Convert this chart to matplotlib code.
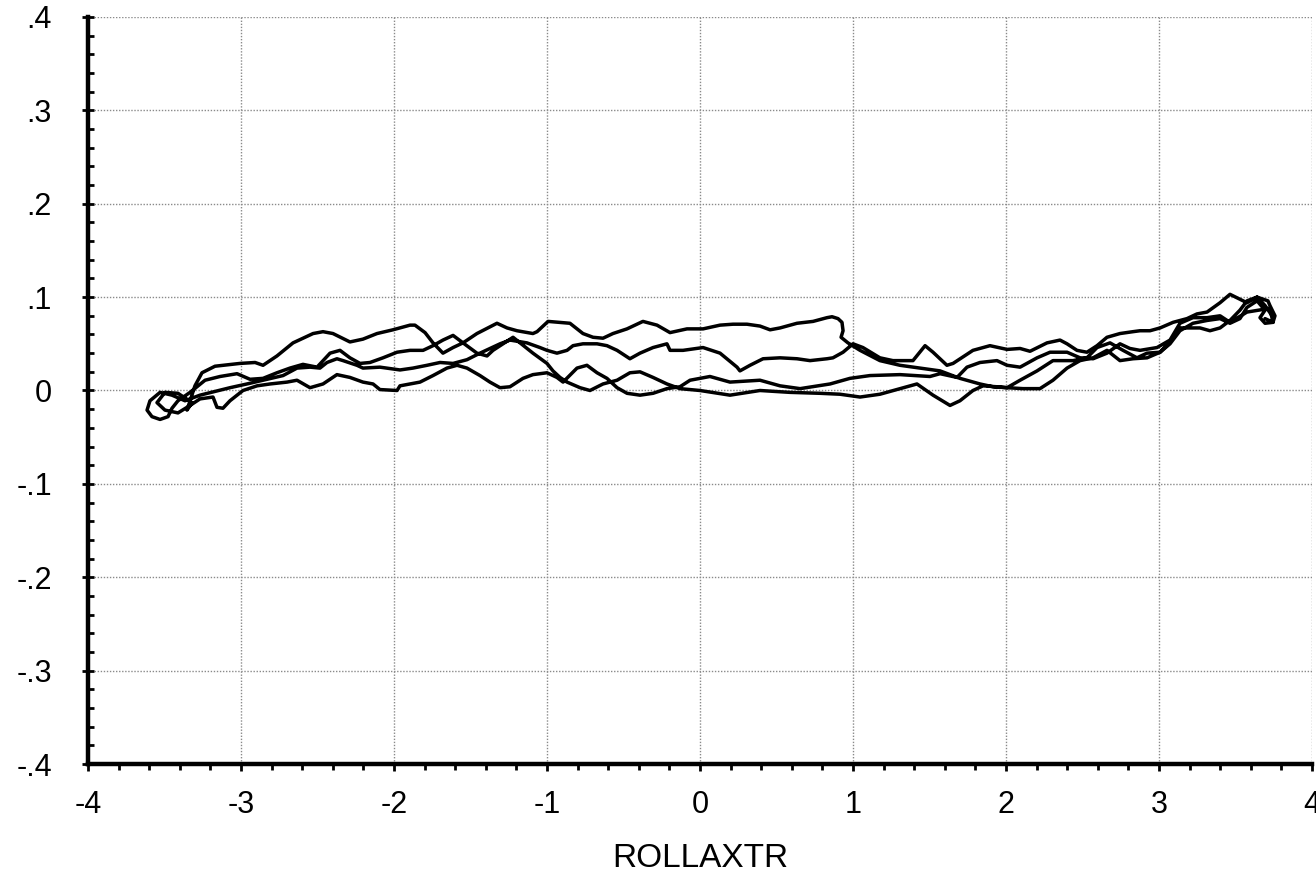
import matplotlib
matplotlib.use("Agg")
import matplotlib.pyplot as plt
import numpy as np
from matplotlib.ticker import MultipleLocator

plt.rcParams['font.family'] = ['Liberation Sans', 'DejaVu Sans']

# ---- data ----
# pass 1: right end -> left end
pass1_x = [3.693, 3.745, 3.758, 3.725, 3.712, 3.641, 3.575, 3.464, 3.399, 3.314, 3.248, 3.183,
           3.092, 3.007, 2.941, 2.876, 2.830, 2.745, 2.660, 2.595, 2.529, 2.464, 2.399, 2.353,
           2.268, 2.157, 2.092, 2.007, 1.895, 1.784, 1.654, 1.614, 1.523, 1.471, 1.392, 1.261,
           1.176, 1.065, 1.000, 0.935, 0.869, 0.830, 0.719, 0.634, 0.523, 0.412, 0.327, 0.261,
           0.242, 0.131, 0.020, -0.111, -0.196, -0.216, -0.307, -0.392, -0.458, -0.542, -0.608,
           -0.673, -0.765, -0.830, -0.869, -0.935, -1.000, -1.046, -1.131, -1.242, -1.307, -1.438,
           -1.523, -1.614, -1.699, -1.784, -1.876, -1.961, -2.092, -2.203, -2.242, -2.333, -2.373,
           -2.438, -2.484, -2.549, -2.634, -2.725, -2.856, -2.961, -3.072, -3.268, -3.366, -3.451,
           -3.529, -3.595, -3.614, -3.582, -3.529, -3.477, -3.451]
pass1_y = [0.077, 0.073, 0.080, 0.091, 0.096, 0.100, 0.094, 0.103, 0.094, 0.084, 0.082, 0.077,
           0.073, 0.067, 0.064, 0.064, 0.063, 0.061, 0.057, 0.048, 0.041, 0.043, 0.050, 0.054,
           0.051, 0.042, 0.045, 0.044, 0.048, 0.043, 0.029, 0.027, 0.041, 0.048, 0.032, 0.032,
           0.035, 0.046, 0.050, 0.041, 0.035, 0.034, 0.032, 0.034, 0.035, 0.034, 0.027, 0.021,
           0.025, 0.040, 0.046, 0.043, 0.043, 0.050, 0.046, 0.040, 0.034, 0.043, 0.048,
           0.050, 0.050, 0.048, 0.043, 0.040, 0.043, 0.046, 0.051, 0.054, 0.050, 0.040,
           0.033, 0.029, 0.030, 0.027, 0.024, 0.022, 0.025, 0.024, 0.027, 0.032, 0.034,
           0.030, 0.024, 0.025, 0.024, 0.016, 0.011, 0.007, 0.003, -0.005, -0.011, -0.005,
           -0.002, -0.011, -0.021, -0.028, -0.031, -0.028, -0.019]

# pass 2: left end -> right end
pass2_x = [-3.412, -3.333, -3.235, -3.137, -3.026, -2.941, -2.856, -2.765, -2.680, -2.595, -2.503,
           -2.418, -2.353, -2.288, -2.222, -2.157, -2.072, -1.980, -1.895, -1.810, -1.745, -1.680,
           -1.614, -1.549, -1.458, -1.392, -1.353, -1.288, -1.222, -1.176, -1.092, -1.000, -0.961,
           -0.915, -0.869, -0.784, -0.719, -0.634, -0.542, -0.458, -0.392, -0.307, -0.216, -0.131,
           0.000, 0.196, 0.392, 0.588, 0.784, 0.915, 1.046, 1.176, 1.307, 1.418, 1.523, 1.634,
           1.699, 1.784, 1.850, 1.941, 2.007, 2.111, 2.222, 2.307, 2.399, 2.484, 2.569, 2.660,
           2.745, 2.830, 2.922, 3.007, 3.072, 3.137, 3.222, 3.314, 3.399, 3.464, 3.529, 3.575,
           3.641, 3.693, 3.660, 3.693, 3.745]
pass2_y = [-0.011, -0.002, 0.011, 0.015, 0.018, 0.012, 0.013, 0.019, 0.024, 0.028, 0.025,
           0.040, 0.043, 0.035, 0.029, 0.030, 0.035, 0.041, 0.043, 0.043, 0.048, 0.054,
           0.059, 0.051, 0.040, 0.037, 0.043, 0.050, 0.057, 0.051, 0.040, 0.029, 0.021,
           0.014, 0.009, 0.003, 0.000, 0.007, 0.011, 0.019, 0.020, 0.014, 0.007, 0.002,
           0.000, -0.005, 0.000, -0.002, -0.003, -0.004, -0.007, -0.004, 0.002, 0.007, -0.005, -0.016,
           -0.011, 0.000, 0.005, 0.004, 0.003, 0.002, 0.002, 0.011, 0.024, 0.032, 0.035, 0.043,
           0.032, 0.034, 0.035, 0.041, 0.050, 0.064, 0.072, 0.075, 0.077, 0.072, 0.077, 0.089,
           0.096, 0.086, 0.078, 0.072, 0.073]

# pass 3: right end -> left end
pass3_x = [3.725, 3.575, 3.464, 3.399, 3.314, 3.222, 3.137, 3.072, 2.987, 2.876, 2.810, 2.745,
           2.660, 2.569, 2.484, 2.399, 2.288, 2.203, 2.092, 2.007, 1.941, 1.830, 1.745, 1.680,
           1.569, 1.503, 1.307, 1.111, 0.980, 0.850, 0.654, 0.523, 0.392, 0.196, 0.065, -0.065,
           -0.131, -0.216, -0.307, -0.392, -0.477, -0.542, -0.608, -0.673, -0.739, -0.804, -0.895,
           -0.935, -1.000, -1.092, -1.157, -1.242, -1.307, -1.373, -1.438, -1.523, -1.588, -1.654,
           -1.745, -1.830, -1.961, -1.980, -2.092, -2.137, -2.203, -2.288, -2.373, -2.464, -2.549,
           -2.634, -2.699, -2.810, -2.895, -2.987, -3.072, -3.118, -3.157, -3.183, -3.268, -3.333,
           -3.412, -3.497, -3.549, -3.497, -3.412, -3.320]
pass3_y = [0.088, 0.084, 0.073, 0.080, 0.078, 0.078, 0.072, 0.054, 0.046, 0.043, 0.045, 0.050,
           0.040, 0.034, 0.035, 0.041, 0.041, 0.035, 0.025, 0.027, 0.032, 0.030, 0.025, 0.014,
           0.018, 0.015, 0.017, 0.016, 0.013, 0.007, 0.002, 0.005, 0.011, 0.009, 0.015, 0.011,
           0.004, 0.002, -0.003, -0.005, -0.003, 0.003, 0.013, 0.019, 0.027, 0.024, 0.009,
           0.014, 0.019, 0.017, 0.013, 0.004, 0.003, 0.009, 0.016, 0.024, 0.027, 0.024,
           0.016, 0.009, 0.005, 0.000, 0.001, 0.007, 0.009, 0.014, 0.017, 0.007, 0.003,
           0.011, 0.009, 0.007, 0.005, 0.000, -0.011, -0.019, -0.018, -0.007, -0.009, -0.016,
           -0.024, -0.021, -0.013, -0.002, -0.003, -0.013]

# pass 4: left end -> hook near 0.9 -> right end
pass4_x = [-3.353, -3.301, -3.255, -3.170, -3.007, -2.908, -2.856, -2.765, -2.660, -2.529, -2.464,
           -2.399, -2.288, -2.203, -2.111, -2.007, -1.895, -1.863, -1.797, -1.745, -1.680, -1.614,
           -1.549, -1.458, -1.327, -1.261, -1.196, -1.092, -1.065, -0.993, -0.850, -0.765, -0.699,
           -0.634, -0.569, -0.477, -0.373, -0.281, -0.196, -0.085, 0.020, 0.131, 0.216, 0.307,
           0.392, 0.458, 0.523, 0.634, 0.739, 0.830, 0.863, 0.902, 0.928, 0.935, 0.922, 0.967,
           1.046, 1.176, 1.307, 1.438, 1.569, 1.699, 1.830, 1.915, 2.007, 2.092, 2.203, 2.307,
           2.438, 2.529, 2.595, 2.680, 2.765, 2.856, 2.922, 3.007, 3.092, 3.137, 3.268, 3.333,
           3.399, 3.464, 3.529, 3.575, 3.641, 3.693, 3.739]
pass4_y = [-0.021, 0.005, 0.019, 0.026, 0.029, 0.030, 0.027, 0.037, 0.051, 0.061, 0.063,
           0.061, 0.052, 0.055, 0.061, 0.065, 0.070, 0.070, 0.062, 0.051, 0.040, 0.046,
           0.051, 0.061, 0.072, 0.067, 0.064, 0.061, 0.063, 0.074, 0.072, 0.061, 0.057,
           0.056, 0.061, 0.066, 0.074, 0.070, 0.062, 0.066, 0.066, 0.070, 0.071, 0.071,
           0.069, 0.065, 0.067, 0.072, 0.074, 0.078, 0.079, 0.077, 0.073, 0.064, 0.057, 0.051,
           0.043, 0.032, 0.027, 0.024, 0.021, 0.013, 0.007, 0.004, 0.003, 0.011, 0.021, 0.032,
           0.032, 0.035, 0.046, 0.051, 0.043, 0.035, 0.040, 0.041, 0.056, 0.067, 0.067, 0.064,
           0.067, 0.075, 0.086, 0.096, 0.100, 0.091, 0.080]

x_ticks = [-4, -3, -2, -1, 0, 1, 2, 3, 4]
x_tick_labels = ['-4', '-3', '-2', '-1', '0', '1', '2', '3', '4']
y_ticks = [-0.4, -0.3, -0.2, -0.1, 0.0, 0.1, 0.2, 0.3, 0.4]
y_tick_labels = ['-.4', '-.3', '-.2', '-.1', '0', '.1', '.2', '.3', '.4']
x_label = 'ROLLAXTR'

# ---- figure ----
W, H = 1316, 875
fig = plt.figure(figsize=(W / 100, H / 100), dpi=100)
ax = fig.add_axes([88 / W, 1 - 764 / H, (1312 - 88) / W, (764 - 17) / H])

path_x = np.concatenate([pass1_x, pass2_x, pass3_x, pass4_x])
path_y = np.concatenate([pass1_y, pass2_y, pass3_y, pass4_y])
ax.plot(path_x, path_y, color='black', lw=2.5, solid_joinstyle='round',
        solid_capstyle='round', zorder=3)

ax.set_xlim(-4, 4)
ax.set_ylim(-0.4, 0.4)
ax.set_xticks(x_ticks)
ax.set_xticklabels(x_tick_labels)
ax.set_yticks(y_ticks)
ax.set_yticklabels(y_tick_labels)
ax.xaxis.set_minor_locator(MultipleLocator(0.2))
ax.yaxis.set_minor_locator(MultipleLocator(0.02))

ax.grid(True, which='major', linestyle=(0, (1, 1.2)), color='#8a8a8a', lw=1.0, zorder=1)
ax.set_axisbelow(True)

for s in ['top', 'right']:
    ax.spines[s].set_visible(False)
for s in ['left', 'bottom']:
    ax.spines[s].set_linewidth(3.2)
    ax.spines[s].set_zorder(4)

ax.tick_params(axis='x', which='major', direction='out', length=5, width=2,
               labelsize=22, pad=14, colors='black')
ax.tick_params(axis='x', which='minor', direction='out', length=4, width=2)
ax.tick_params(axis='y', which='major', direction='inout', length=8, width=2,
               labelsize=22, pad=22)
ax.tick_params(axis='y', which='minor', direction='in', length=4, width=2)

ax.set_xlabel(x_label, fontsize=24, labelpad=16)

fig.savefig('out.png', dpi=100)
